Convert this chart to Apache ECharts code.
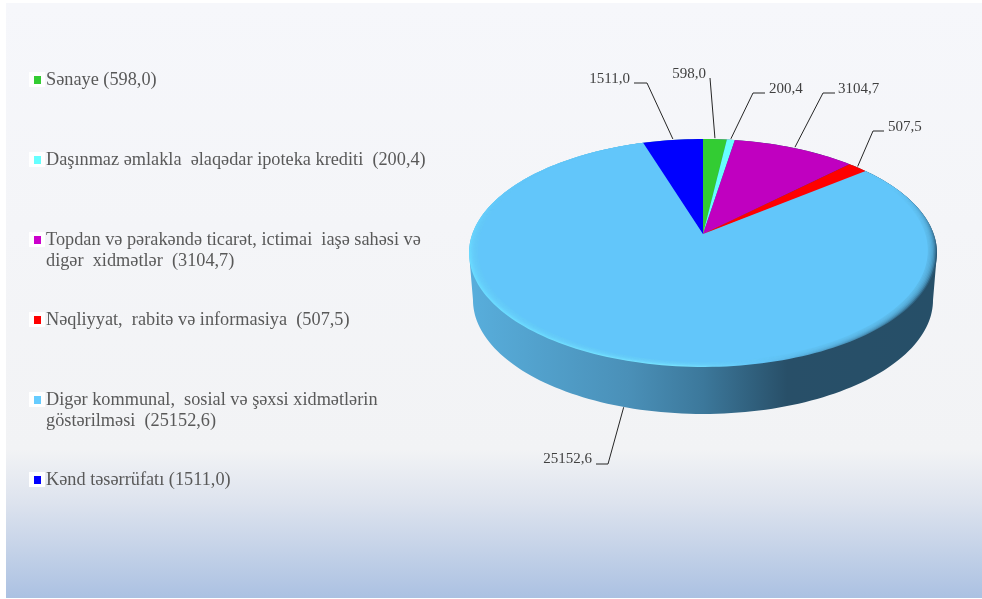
<!DOCTYPE html>
<html>
<head>
<meta charset="utf-8">
<style>html,body{margin:0;padding:0;background:#fff}#c{width:982px;height:599px}</style>
<script src="https://cdn.jsdelivr.net/npm/echarts@6/dist/echarts.min.js"></script>
</head>
<body>
<div id="c"></div>
<script>
const categories = ['Sənaye', 'Daşınmaz əmlakla  əlaqədar ipoteka krediti ', 'Topdan və pərakəndə ticarət, ictimai  iaşə sahəsi və\ndigər  xidmətlər ', 'Nəqliyyat,  rabitə və informasiya ', 'Digər kommunal,  sosial və şəxsi xidmətlərin\ngöstərilməsi ', 'Kənd təsərrüfatı'];
const values = [598.0, 200.4, 3104.7, 507.5, 25152.6, 1511.0];
const sliceColors = ['#33CC33', '#66FFFF', '#C000C0', '#FF0000', '#62C6FA', '#0000FF'];
const legendColors = ['#33CC33', '#66FFFF', '#CC00CC', '#FF0000', '#66CCFF', '#0000FF'];

// Layout (not data): legend row centres, leader elbow / end / label anchor
const legendRowY = [80, 160, 240, 320, 400, 480];
const labelLayout = [
  {elbow: null, label: [706, 74], align: 'right', free: [710, 78]},
  {elbow: [753, 93], end: [765, 93], label: [769, 89], align: 'left'},
  {elbow: [823, 93], end: [835, 93], label: [838, 89], align: 'left'},
  {elbow: [873, 131], end: [884, 131], label: [888, 127], align: 'left'},
  {elbow: [608, 464], end: [596, 464], label: [592, 459], align: 'right', wall: true},
  {elbow: [647, 83], end: [634, 83], label: [630, 79], align: 'right'}
];

// Tilted disc: apex of the slices sits above the centre of the rim ellipse (perspective)
const apex = [703, 234];
const DEPTH = 47;
const FONT = '"Liberation Serif","Times New Roman",serif';
const total = values.reduce((a, b) => a + b, 0);
const outerDisc = {a: 230.7, b: 110.8, k: 1 / 6};
const innerDisc = {a: 222.4, b: 109.0, k: 0.148};
const lowerDisc = {a: 226.8, b: 110.8, k: 1 / 6};
const BEVEL_STEPS = 7;

function rim(deg, d, dy) {
  const t = deg * Math.PI / 180, w = 1 + d.k * Math.cos(t);
  return [apex[0] + d.a * Math.sin(t) / w, apex[1] - d.b * Math.cos(t) / w + (dy || 0)];
}
function arc(from, to, d, dy) {
  const n = Math.max(2, Math.ceil(Math.abs(to - from) / 1.5)), pts = [];
  for (let i = 0; i <= n; i++) pts.push(rim(from + (to - from) * i / n, d, dy));
  return pts;
}
function mixDisc(f) {
  return {
    a: outerDisc.a + (innerDisc.a - outerDisc.a) * f,
    b: outerDisc.b + (innerDisc.b - outerDisc.b) * f,
    k: outerDisc.k + (innerDisc.k - outerDisc.k) * f
  };
}
function angles(i) {
  let c = 0;
  for (let j = 0; j < i; j++) c += values[j];
  return [c / total * 360, (c + values[i]) / total * 360];
}
const Lin = echarts.graphic.LinearGradient;

function renderWall() {
  const e = 99.6;
  const pts = arc(e, 360 - e, lowerDisc, DEPTH).concat(arc(360 - e, 360 + e, outerDisc));
  return {
    type: 'polygon', shape: {points: pts},
    style: {fill: new Lin(0, 0, 1, 0, [
      {offset: 0, color: '#58AEDC'}, {offset: 0.34, color: '#4A90B8'},
      {offset: 0.5, color: '#3C789B'}, {offset: 0.68, color: '#284F68'}, {offset: 1, color: '#264F68'}
    ])}
  };
}

function renderSlice(params) {
  const i = params.dataIndex, [s, t] = angles(i), kids = [];
  if (i === 4) {
    const full = [apex].concat(arc(s, t, outerDisc));
    kids.push({type: 'polygon', z2: 1, shape: {points: full},
      style: {fill: new Lin(0, 0, 1, 0, [
        {offset: 0, color: '#6ADBFF'}, {offset: 0.45, color: '#78E4FF'},
        {offset: 0.62, color: '#62C6FA'}, {offset: 0.85, color: '#4488AE'}, {offset: 1, color: '#2A5A78'}
      ])}});
    // the rim highlight fades out toward the back of the disc
    kids.push({type: 'polygon', z2: 2, shape: {points: full},
      style: {fill: new Lin(0, 0, 0, 1, [
        {offset: 0, color: 'rgba(98,198,250,1)'}, {offset: 0.2, color: 'rgba(98,198,250,1)'},
        {offset: 0.5, color: 'rgba(98,198,250,0)'}, {offset: 1, color: 'rgba(98,198,250,0)'}
      ])}});
    for (let j = 1; j <= BEVEL_STEPS; j++) {
      kids.push({type: 'polygon', z2: 2, shape: {points: [apex].concat(arc(s, t, mixDisc(j / BEVEL_STEPS)))},
        style: {fill: sliceColors[i], opacity: j === BEVEL_STEPS ? 1 : 0.3}});
    }
  } else {
    kids.push({type: 'polygon', z2: 5, shape: {points: [apex].concat(arc(s, t, outerDisc))},
      style: {fill: sliceColors[i]}});
  }
  // leader line, starting from the slice's mid-angle on the rim
  const L = labelLayout[i], a = rim((s + t) / 2, outerDisc, L.wall ? DEPTH : -1);
  const line = L.elbow ? [a, L.elbow, L.end] : [a, L.free];
  kids.push({type: 'polyline', z2: 6, shape: {points: line},
    style: {fill: 'none', stroke: '#262626', lineWidth: 1}});
  kids.push({type: 'text', z2: 7, style: {
    text: values[i].toFixed(1).replace('.', ','), x: L.label[0], y: L.label[1],
    align: L.align, verticalAlign: 'middle', font: '15px ' + FONT, fill: '#404040'
  }});
  // legend entry
  const y = legendRowY[i];
  kids.push({type: 'rect', z2: 6, shape: {x: 29, y: y - 8, width: 16, height: 15}, style: {fill: '#fff'}});
  kids.push({type: 'rect', z2: 7, shape: {x: 34, y: y - 4, width: 7, height: 8}, style: {fill: legendColors[i]}});
  kids.push({type: 'text', z2: 7, style: {
    text: categories[i] + ' (' + values[i].toFixed(1).replace('.', ',') + ')',
    x: 46, y: y - 10.5, align: 'left', verticalAlign: 'top', lineHeight: 21,
    font: '18.3px ' + FONT, fill: '#595959'
  }});
  return {type: 'group', children: kids};
}

const chart = echarts.init(document.getElementById('c'), null, {renderer: 'canvas'});
chart.setOption({
  animation: false,
  backgroundColor: '#fff',
  graphic: [{
    type: 'rect', z: -10, shape: {x: 6, y: 3, width: 976, height: 595},
    style: {fill: new Lin(0, 0, 0, 1, [
      {offset: 0, color: '#F6F7FB'}, {offset: 0.75, color: '#F2F3F5'},
      {offset: 0.84, color: '#DDE3EE'}, {offset: 1, color: '#ABC1E2'}
    ])}
  }],
  series: [
    {type: 'custom', coordinateSystem: 'none', silent: true, z: 1, data: [total], renderItem: renderWall},
    {type: 'custom', coordinateSystem: 'none', silent: true, z: 2,
      data: categories.map((n, i) => ({name: n, value: values[i]})), renderItem: renderSlice}
  ]
});
</script>
</body>
</html>
